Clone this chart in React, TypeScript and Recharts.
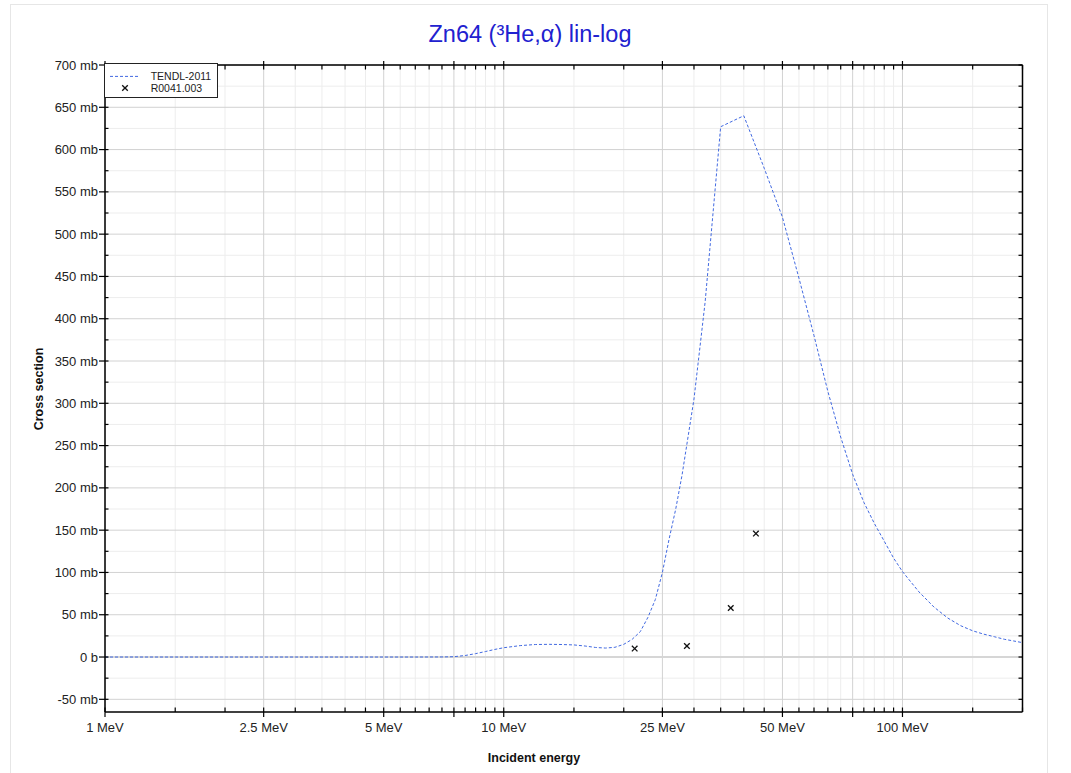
import React from 'react';
import { ComposedChart, Line, Scatter, XAxis, YAxis, CartesianGrid, Legend } from 'recharts';

const TITLE = 'Zn64 (³He,α) lin-log';
const X_TITLE = 'Incident energy';
const Y_TITLE = 'Cross section';
const SERIES_LINE = 'TENDL-2011';
const SERIES_EXP = 'R0041.003';

const TENDL_E = [1, 1.5, 2, 3, 4, 5, 6, 7, 7.5, 8, 8.5, 9, 9.5, 10, 11, 12, 13, 14, 15, 16, 17, 18, 19, 20, 21, 22, 23, 24, 25, 26, 27, 28, 30, 32, 35, 40, 45, 50, 55, 60, 65, 70, 75, 80, 85, 90, 95, 100, 110, 120, 130, 140, 150, 160, 170, 180, 190, 200];
const TENDL_XS = [0, 0, 0, 0, 0, 0, 0, 0.1, 0.4, 1.8, 4, 6.5, 9, 11, 13.5, 14.8, 15, 14.8, 14.3, 13, 11.3, 10.6, 11.5, 15, 21, 30, 47, 68, 100, 140, 175, 215, 305, 420, 627, 640, 578, 520, 448, 380, 314, 260, 216, 183, 158, 137, 117, 101, 77, 59, 46, 37, 31, 27, 24, 21, 19, 17];

const EXP_E = [21.3, 28.8, 37.1, 42.9];
const EXP_XS = [10, 13, 58, 146];

const X_TICKS = [1, 1.5, 2, 2.5, 3, 3.5, 4, 4.5, 5, 5.5, 6, 6.5, 7, 7.5, 8, 8.5, 9, 9.5, 10, 15, 20, 25, 30, 35, 40, 45, 50, 55, 60, 65, 70, 75, 80, 85, 90, 95, 100, 150, 200];
const X_MAJOR = [1, 2.5, 5, 7.5, 10, 25, 50, 75, 100];
const X_LABELED = [1, 2.5, 5, 10, 25, 50, 100];
const Y_TICKS = [-50, -25, 0, 25, 50, 75, 100, 125, 150, 175, 200, 225, 250, 275, 300, 325, 350, 375, 400, 425, 450, 475, 500, 525, 550, 575, 600, 625, 650, 675, 700];
const Y_MAJOR = [-50, 0, 50, 100, 150, 200, 250, 300, 350, 400, 450, 500, 550, 600, 650, 700];

const X_DOMAIN = [1, 200];
const Y_DOMAIN = [-65, 700];

const lineData = TENDL_E.map((e, i) => ({ e, v: TENDL_XS[i] }));
const expData = EXP_E.map((e, i) => ({ e, v: EXP_XS[i] }));
const xMinor = X_TICKS.filter((v) => !X_MAJOR.includes(v));
const yMinor = Y_TICKS.filter((v) => !Y_MAJOR.includes(v));

const FONT = '"Liberation Sans", Arial, Helvetica, sans-serif';
const LINE_COLOR = '#4169e1';

const yLabel = (v: number) => (v === 0 ? '0 b' : `${v} mb`);

const BottomTick = (p: any) => {
  const { x, y, payload } = p;
  const v = payload.value;
  const major = X_MAJOR.includes(v);
  return (
    <g>
      <line x1={x} x2={x} y1={y - 4.5} y2={major ? y + 5 : y} stroke="#000" strokeWidth={1.2} />
      {X_LABELED.includes(v) && (
        <text x={x} y={y + 20} textAnchor="middle" fontSize={13} fill="#222" fontFamily={FONT}>
          {`${v} MeV`}
        </text>
      )}
    </g>
  );
};

const TopTick = (p: any) => {
  const { x, y, payload } = p;
  const major = X_MAJOR.includes(payload.value);
  return <line x1={x} x2={x} y1={major ? y - 4 : y} y2={y + 4.5} stroke="#000" strokeWidth={1.2} />;
};

const LeftTick = (p: any) => {
  const { x, y, payload } = p;
  const v = payload.value;
  const major = Y_MAJOR.includes(v);
  return (
    <g>
      <line x1={major ? x - 6 : x} x2={x + 3.5} y1={y} y2={y} stroke="#000" strokeWidth={1.2} />
      {major && (
        <text x={x - 7} y={y + 4.6} textAnchor="end" fontSize={13} fill="#222" fontFamily={FONT}>
          {yLabel(v)}
        </text>
      )}
    </g>
  );
};

const RightTick = (p: any) => {
  const { x, y } = p;
  return <line x1={x - 4} x2={x} y1={y} y2={y} stroke="#000" strokeWidth={1.2} />;
};

const Cross = (p: any) => {
  const { cx, cy } = p;
  if (cx == null || cy == null) return <g />;
  return (
    <g stroke="#111" strokeWidth={1.3}>
      <line x1={cx - 2.8} y1={cy - 2.8} x2={cx + 2.8} y2={cy + 2.8} />
      <line x1={cx - 2.8} y1={cy + 2.8} x2={cx + 2.8} y2={cy - 2.8} />
    </g>
  );
};

const LegendBox = () => (
  <div style={{ width: 114, height: 35, border: '1px solid #222', background: '#fff', boxSizing: 'border-box' }}>
    <svg width={112} height={33} style={{ display: 'block' }}>
      <line x1={5} x2={33} y1={12.4} y2={12.4} stroke={LINE_COLOR} strokeDasharray="3 2" strokeWidth={1} />
      <text x={45.7} y={16} fontSize={10.5} fill="#222" fontFamily={FONT}>{SERIES_LINE}</text>
      <Cross cx={20} cy={24} />
      <text x={45.7} y={27.6} fontSize={10.5} fill="#222" fontFamily={FONT}>{SERIES_EXP}</text>
    </svg>
  </div>
);

export default function App() {
  return (
    <div style={{ position: 'absolute', left: 0, top: 0, width: 1071, height: 773, background: '#fff', overflow: 'hidden' }}>
      <div style={{ position: 'absolute', left: 10, top: 4, width: 1036, height: 800, border: '1px solid #e6e6e6' }} />
      <div style={{ position: 'absolute', left: 0, top: 0 }}>
        <ComposedChart width={1071} height={773} margin={{ top: 55, right: 38.5, bottom: 31, left: 45 }}>
          <CartesianGrid verticalValues={xMinor} horizontalValues={yMinor} stroke="#ededed" strokeWidth={1} fill="none" />
          <CartesianGrid verticalValues={X_MAJOR} horizontalValues={Y_MAJOR} stroke="#d2d2d2" strokeWidth={1} fill="none" />
          <CartesianGrid vertical={false} horizontalValues={[0]} stroke="#d6d6d6" strokeWidth={2} fill="none" />
          <XAxis
            dataKey="e"
            type="number"
            scale="log"
            domain={X_DOMAIN}
            ticks={X_TICKS}
            interval={0}
            allowDataOverflow
            height={30}
            tickSize={0}
            tickMargin={0}
            tickLine={false}
            axisLine={{ stroke: '#000', strokeWidth: 1.5 }}
            tick={BottomTick}
          />
          <XAxis
            xAxisId="top"
            orientation="top"
            dataKey="e"
            type="number"
            scale="log"
            domain={X_DOMAIN}
            ticks={X_TICKS}
            interval={0}
            allowDataOverflow
            height={10}
            tickSize={0}
            tickMargin={0}
            tickLine={false}
            axisLine={{ stroke: '#000', strokeWidth: 1.5 }}
            tick={TopTick}
          />
          <YAxis
            type="number"
            domain={Y_DOMAIN}
            ticks={Y_TICKS}
            interval={0}
            allowDataOverflow
            width={60}
            tickSize={0}
            tickMargin={0}
            tickLine={false}
            axisLine={{ stroke: '#000', strokeWidth: 1.5 }}
            tick={LeftTick}
          />
          <YAxis
            yAxisId="right"
            orientation="right"
            type="number"
            domain={Y_DOMAIN}
            ticks={Y_TICKS}
            interval={0}
            allowDataOverflow
            width={10}
            tickSize={0}
            tickMargin={0}
            tickLine={false}
            axisLine={{ stroke: '#000', strokeWidth: 1.5 }}
            tick={RightTick}
          />
          <Line
            data={lineData}
            dataKey="v"
            type="linear"
            dot={false}
            activeDot={false}
            stroke={LINE_COLOR}
            strokeWidth={1}
            strokeDasharray="3 2"
            isAnimationActive={false}
            name={SERIES_LINE}
          />
          <Scatter data={expData} dataKey="v" shape={Cross} isAnimationActive={false} name={SERIES_EXP} />
          <Legend
            content={LegendBox}
            layout="horizontal"
            verticalAlign="middle"
            wrapperStyle={{ left: 104, top: 63, width: 114, height: 35, margin: 0, padding: 0 }}
          />
        </ComposedChart>
      </div>
      <svg width={1071} height={773} style={{ position: 'absolute', left: 0, top: 0, pointerEvents: 'none' }}>
        <text x={530} y={42} textAnchor="middle" fontSize={23.5} fill="#2121cf" fontFamily={FONT}>{TITLE}</text>
        <text x={534} y={761.5} textAnchor="middle" fontSize={12.5} fontWeight="bold" fill="#111" fontFamily={FONT}>{X_TITLE}</text>
        <text transform="translate(42.5 389) rotate(-90)" textAnchor="middle" fontSize={12.5} fontWeight="bold" fill="#111" fontFamily={FONT}>{Y_TITLE}</text>
      </svg>
    </div>
  );
}
